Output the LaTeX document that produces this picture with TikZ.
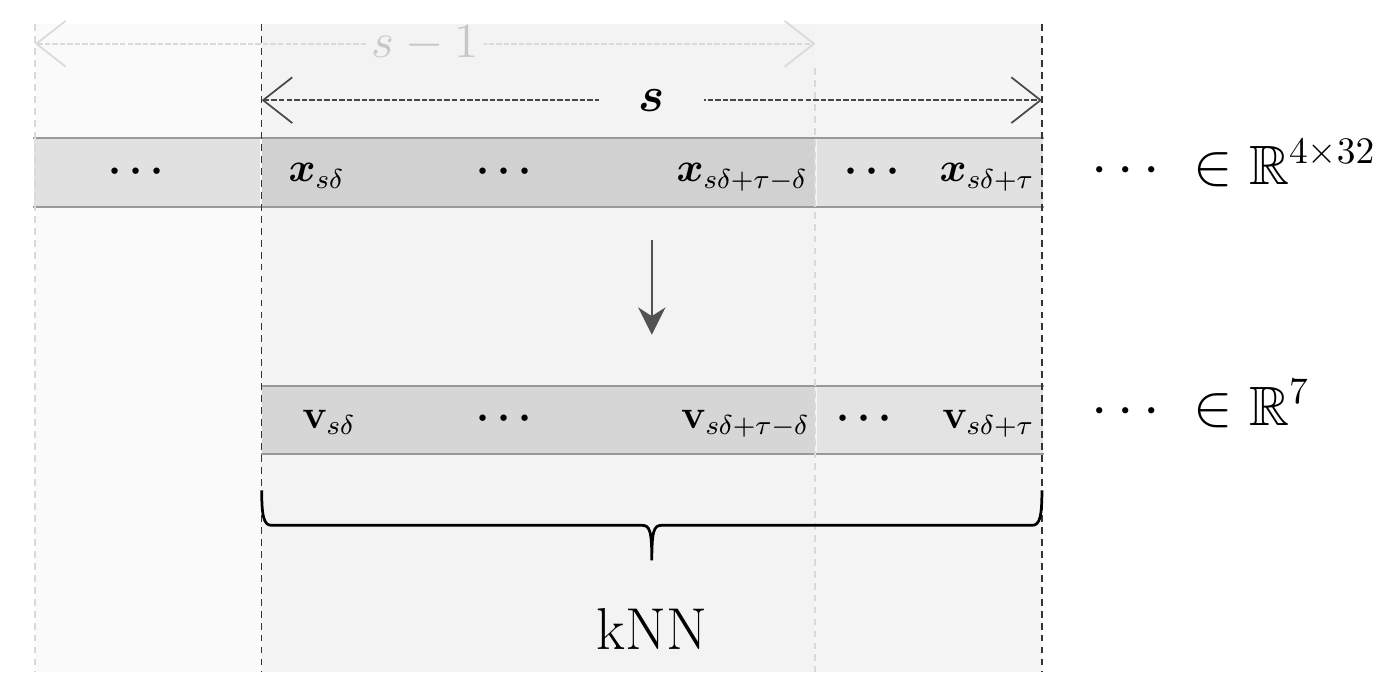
\documentclass[tikz,border=0pt]{standalone}
\usepackage{amsmath, amssymb, bm}
\usepackage{tikz}
\usetikzlibrary{positioning, arrows.meta}
\definecolor{pastbg}{HTML}{FAFAFA}
\definecolor{winbg}{HTML}{F3F3F3}
\definecolor{nextbg}{HTML}{F5F5F5}
\definecolor{xmid}{HTML}{D1D1D1}
\definecolor{xside}{HTML}{E1E1E1}
\definecolor{vmid}{HTML}{D6D6D6}
\definecolor{vside}{HTML}{E3E3E3}
\tikzset{cell/.style={inner sep=0pt,minimum height=0.69cm},
         entry/.style={inner sep=0pt,font=\large},
         dimtext/.style={inner sep=0pt,font=\fontsize{16.2}{19}\selectfont,anchor=base west},
         rowline/.style={draw=black!40,line width=0.6pt},
         bound/.style={draw=black!80,dash pattern=on 2pt off 1.5pt,line width=0.45pt},
         faint bound/.style={draw=black!15,dash pattern=on 2pt off 1.5pt,line width=0.45pt},
         widtharrow/.style={dash pattern=on 1.6pt off 0.6pt,line width=0.5pt,
            {Straight Barb[length=3mm,width=4.7mm]}-{Straight Barb[length=3mm,width=4.7mm]}}}

\begin{document}
\begin{tikzpicture}
            \useasboundingbox (0,0) rectangle (14.37,-6.91);
            % window backgrounds
            \fill[pastbg] (0.36,-0.25) rectangle (2.69,-6.91);
            \fill[winbg] (2.69,-0.25) rectangle (8.38,-6.91);
            \fill[nextbg] (8.38,-0.25) rectangle (10.71,-6.91);

            % input row
            \node[cell,fill=xmid,minimum width=5.69cm] (xm) at (5.535,-1.775) {};
            \node[cell,fill=xside,minimum width=2.33cm] (xl) [left = 0pt of xm] {};
            \node[cell,fill=xside,minimum width=2.33cm] (xr) [right = 0pt of xm] {};
            \draw[rowline] (xl.north west) -- (xr.north east);
            \draw[rowline] (xl.south west) -- (xr.south east);

            % feature row
            \node[cell,fill=vmid,minimum width=5.69cm] (vm) [below = 1.84cm of xm] {};
            \node[cell,fill=vside,minimum width=2.33cm] (vr) [right = 0pt of vm] {};
            \draw[rowline] (vm.north west) -- (vr.north east);
            \draw[rowline] (vm.south west) -- (vr.south east);

            % window borders
            \draw[faint bound] (0.36,-0.25) -- (0.36,-6.91);
            \draw[faint bound] (8.38,-0.70) -- (8.38,-6.91);
            \draw[bound] (2.69,-0.25) -- (2.69,-6.91);
            \draw[bound] (10.71,-0.25) -- (10.71,-6.91);

            % window lengths
            \coordinate (p0) at (0.36,-0.45);
            \coordinate (p1) at (8.38,-0.45);
            \coordinate (w0) at (2.69,-1.03);
            \coordinate (w1) at (10.71,-1.03);
            \draw[widtharrow,black!15] (p0) -- node[fill=winbg,text=black!22,font=\fontsize{13.6}{16}\selectfont,inner xsep=1.5pt,inner ysep=0pt] (prev) {$s-1$} (p1);
            \draw[widtharrow,black!72] (w0) -- node[fill=winbg,text=black,font=\Large,minimum width=1.08cm] (cur) {$\bm{s}$} (w1);

            % entries of the input row
            \node[entry,anchor=base] (x1) at (1.44,-1.87) {$\bm{\cdots}$};
            \node[entry,anchor=base west] (x2) at (2.96,-1.87) {$\bm{x}_{s\delta}$};
            \node[entry,anchor=base] (x3) at (5.22,-1.87) {$\bm{\cdots}$};
            \node[entry,anchor=base east] (x4) at (8.31,-1.87) {$\bm{x}_{s\delta+\tau-\delta}$};
            \node[entry,anchor=base] (x5) at (9.00,-1.87) {$\bm{\cdots}$};
            \node[entry,anchor=base east] (x6) at (10.64,-1.87) {$\bm{x}_{s\delta+\tau}$};
            \node[dimtext] (xdim) at (11.21,-1.90) {$\cdots\ \in\mathbb{R}^{4\times 32}$};

            % entries of the feature row
            \node[entry,anchor=base west] (v2) at (3.10,-4.40) {$\mathbf{v}_{s\delta}$};
            \node[entry,anchor=base] (v3) at (5.22,-4.40) {$\bm{\cdots}$};
            \node[entry,anchor=base east] (v4) at (8.33,-4.40) {$\mathbf{v}_{s\delta+\tau-\delta}$};
            \node[entry,anchor=base] (v5) at (8.92,-4.40) {$\bm{\cdots}$};
            \node[entry,anchor=base east] (v6) at (10.64,-4.40) {$\mathbf{v}_{s\delta+\tau}$};
            \node[dimtext] (vdim) at (11.21,-4.37) {$\cdots\ \in\mathbb{R}^{7}$};

            % embedding step
            \coordinate (a0) at (6.70,-2.47);
            \coordinate (a1) at (6.70,-3.44);
            \draw[-{Stealth[length=2.8mm,width=2.8mm,inset=0.9mm]},black!68,line width=0.6pt] (a0) -- (a1);

            % brace over the window
            \coordinate (b0) at (2.69,-5.04);
            \coordinate (b1) at (10.71,-5.04);
            \draw[line width=0.8pt] (b0) .. controls (2.69,-5.30) and (2.71,-5.40) .. (2.79,-5.40)
              -- (6.60,-5.40) .. controls (6.68,-5.40) and (6.70,-5.46) .. (6.70,-5.76)
              .. controls (6.70,-5.46) and (6.72,-5.40) .. (6.80,-5.40)
              -- (10.61,-5.40) .. controls (10.69,-5.40) and (10.71,-5.30) .. (b1);
            \node[font=\LARGE] (knn) at (6.70,-6.47) {kNN};
        \end{tikzpicture}
\end{document}
